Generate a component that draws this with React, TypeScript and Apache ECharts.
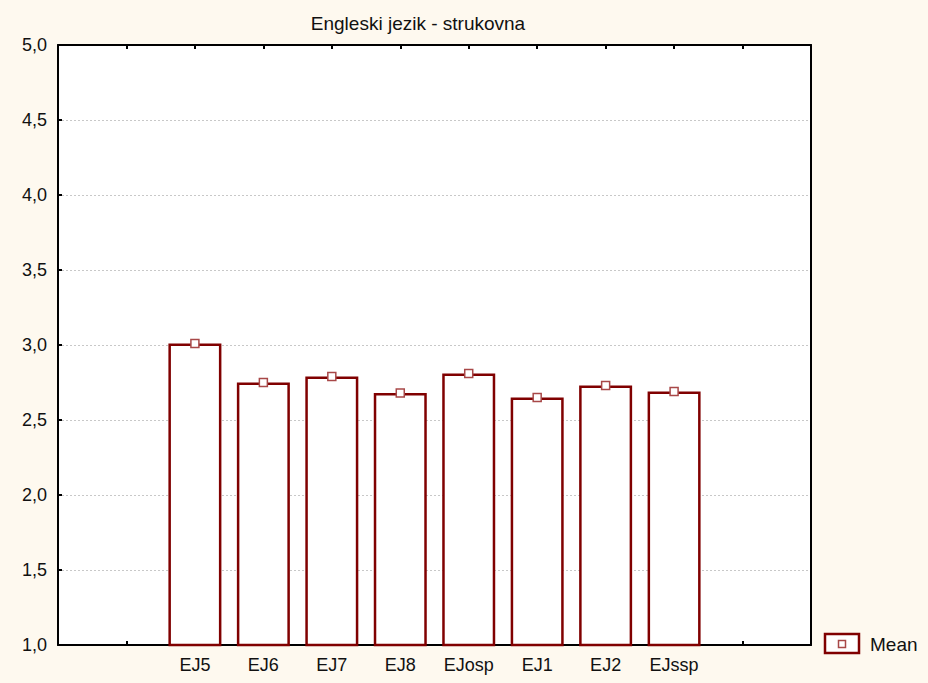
import React, { useEffect, useRef } from "react";
import * as echarts from "echarts";

const titleText = "Engleski jezik - strukovna";
const labels = ["EJ5", "EJ6", "EJ7", "EJ8", "EJosp", "EJ1", "EJ2", "EJssp"];
const means = [3.01, 2.75, 2.79, 2.68, 2.81, 2.65, 2.73, 2.69];
const yTicks = [1.0, 1.5, 2.0, 2.5, 3.0, 3.5, 4.0, 4.5, 5.0];
const legendName = "Mean";
const padBefore = 2;
const padAfter = 2;

const FONT = "'Liberation Sans', Arial, sans-serif";
const DARK_RED = "#800000";

export default function App() {
  const ref = useRef<HTMLDivElement>(null);

  useEffect(() => {
    if (!ref.current) return;
    const chart = echarts.init(ref.current, null, { renderer: "svg" });
    const cats = [
      ...Array(padBefore).fill(""),
      ...labels,
      ...Array(padAfter).fill(""),
    ];
    const vals = [
      ...Array(padBefore).fill("-"),
      ...means,
      ...Array(padAfter).fill("-"),
    ];
    const yMin = yTicks[0];
    const yMax = yTicks[yTicks.length - 1];
    const yInterval = yTicks[1] - yTicks[0];

    chart.setOption({
      animation: false,
      backgroundColor: "#FEF9EF",
      textStyle: { fontFamily: FONT },
      title: {
        text: titleText,
        left: 413,
        top: 9,
        textAlign: "center",
        textStyle: { fontFamily: FONT, fontSize: 19, fontWeight: "normal", color: "#111" },
      },
      grid: {
        left: 58,
        top: 45,
        width: 753,
        height: 600,
        show: true,
        backgroundColor: "#ffffff",
        borderWidth: 0,
      },
      xAxis: [
        {
          type: "category",
          data: cats,
          boundaryGap: false,
          position: "bottom",
          axisLine: { lineStyle: { color: "#000", width: 2 } },
          axisTick: { inside: true, length: 4, interval: 0, lineStyle: { color: "#000", width: 2 } },
          axisLabel: { interval: 0, color: "#111", fontSize: 18, fontFamily: FONT, margin: 11 },
          splitLine: { show: false },
        },
        {
          type: "category",
          data: cats,
          boundaryGap: false,
          position: "top",
          axisLine: { lineStyle: { color: "#000", width: 2 } },
          axisTick: { inside: true, length: 4, interval: 0, lineStyle: { color: "#000", width: 2 } },
          axisLabel: { show: false },
          splitLine: { show: false },
        },
      ],
      yAxis: [
        {
          type: "value",
          min: yMin,
          max: yMax,
          interval: yInterval,
          position: "left",
          axisLine: { show: true, lineStyle: { color: "#000", width: 2 } },
          axisTick: { show: true, inside: true, length: 4, lineStyle: { color: "#000", width: 2 } },
          axisLabel: {
            color: "#111",
            fontSize: 18,
            fontFamily: FONT,
            margin: 11,
            formatter: (v: number) => v.toFixed(1).replace(".", ","),
          },
          splitLine: { show: true, lineStyle: { color: "#c8c8c8", type: [2, 2], width: 1 } },
        },
        {
          type: "value",
          min: yMin,
          max: yMax,
          interval: yInterval,
          position: "right",
          axisLine: { show: true, lineStyle: { color: "#000", width: 2 } },
          axisTick: { show: false },
          axisLabel: { show: false },
          splitLine: { show: false },
        },
      ],
      series: [
        {
          type: "bar",
          name: legendName,
          data: vals,
          barWidth: 53,
          itemStyle: { color: "#ffffff", borderColor: DARK_RED, borderWidth: 2.5 },
          z: 2,
        },
        {
          type: "scatter",
          name: legendName,
          data: vals,
          symbol: "rect",
          symbolSize: 8,
          itemStyle: { color: "#ffffff", borderColor: "#a84848", borderWidth: 1.5, opacity: 1 },
          z: 3,
        },
      ],
      graphic: [
        {
          type: "rect",
          shape: { x: 825, y: 634, width: 34, height: 19 },
          style: { fill: "#ffffff", stroke: DARK_RED, lineWidth: 2.5 },
        },
        {
          type: "rect",
          shape: { x: 838.5, y: 640.5, width: 7, height: 7 },
          style: { fill: "#ffffff", stroke: "#a84848", lineWidth: 1.5 },
        },
        {
          type: "text",
          x: 870,
          y: 644,
          style: {
            text: legendName,
            fill: "#111",
            font: `19px ${FONT}`,
            textVerticalAlign: "middle",
            verticalAlign: "middle",
          },
        },
      ],
    });
    return () => chart.dispose();
  }, []);

  return (
    <div
      ref={ref}
      style={{ position: "absolute", left: 0, top: 0, width: 928, height: 683 }}
    />
  );
}
